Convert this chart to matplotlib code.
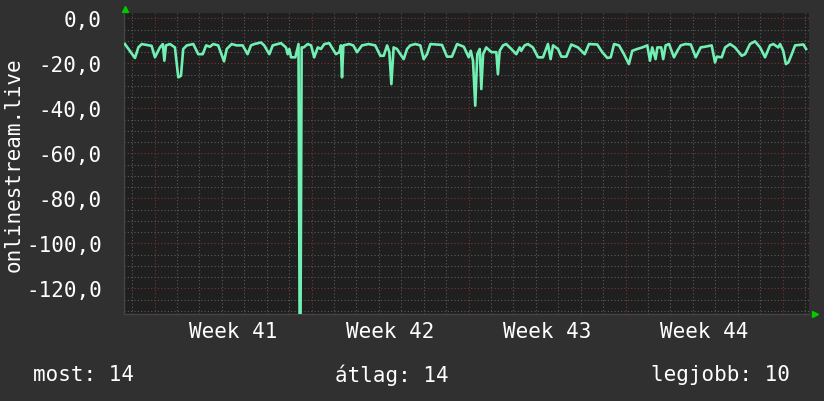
import matplotlib
matplotlib.use("Agg")
from matplotlib import pyplot as plt
import numpy as np

# time in days since the left edge of the graph, and the measured value
days = [0.04, 0.49, 0.64, 0.79, 1.23, 1.38, 1.60, 1.73, 1.80, 1.87,
        2.05, 2.27, 2.42, 2.54, 2.64, 2.80, 3.09, 3.31, 3.51, 3.66,
        3.83, 3.98, 4.20, 4.46, 4.58, 4.80, 5.02, 5.29, 5.51, 5.66,
        5.81, 6.11, 6.25, 6.48, 6.63, 7.00, 7.22, 7.30, 7.37, 7.45,
        7.64, 7.78, 7.83, 7.85, 7.87, 7.92, 8.01, 8.19, 8.34, 8.48,
        8.64, 8.78, 8.93, 9.15, 9.45, 9.60, 9.67, 9.72, 9.78, 10.04,
        10.22, 10.39, 10.61, 10.91, 11.20, 11.43, 11.58, 11.73, 11.83, 11.92,
        12.02, 12.17, 12.32, 12.47, 12.62, 12.76, 12.99, 13.21, 13.36, 13.51,
        13.66, 14.18, 14.40, 14.62, 14.85, 15.15, 15.37, 15.46, 15.56, 15.66,
        15.75, 15.86, 15.93, 16.01, 16.15, 16.38, 16.60, 16.67, 16.75, 16.90,
        17.04, 17.27, 17.49, 17.64, 17.71, 17.86, 18.01, 18.23, 18.46, 18.68,
        18.90, 19.02, 19.13, 19.35, 19.50, 19.72, 19.94, 20.24, 20.54, 20.73,
        21.10, 21.32, 21.55, 21.70, 21.85, 22.07, 22.29, 22.51, 22.66, 22.88,
        23.11, 23.33, 23.45, 23.55, 23.70, 23.78, 23.95, 24.04, 24.15, 24.30,
        24.52, 24.67, 24.82, 25.04, 25.27, 25.49, 25.71, 25.90, 26.20, 26.35,
        26.43, 26.65, 26.80, 27.02, 27.24, 27.54, 27.69, 27.91, 28.13, 28.36,
        28.58, 28.80, 28.95, 29.17, 29.25, 29.39, 29.51, 29.62, 29.77, 29.92,
        30.29, 30.41]
values = [-11.4, -17.6, -12.9, -11.4, -12.2, -17.3, -12.9, -11.4, -18.8, -12.0,
          -11.4, -12.9, -26.2, -25.5, -13.6, -12.0, -11.4, -15.9, -15.9, -12.0,
          -12.6, -11.4, -12.0, -19.1, -13.6, -11.4, -12.0, -12.0, -15.9, -12.0,
          -11.4, -10.7, -12.0, -15.9, -12.0, -11.0, -12.9, -15.9, -13.6, -17.3,
          -17.3, -11.4, -135.0, -135.0, -135.0, -12.9, -12.9, -11.4, -12.0, -17.3,
          -12.9, -13.6, -11.4, -11.0, -15.9, -15.0, -12.0, -26.2, -12.0, -11.4,
          -12.0, -15.0, -12.0, -11.4, -12.0, -16.6, -16.6, -12.0, -15.0, -29.2,
          -12.9, -13.6, -15.9, -18.1, -13.6, -12.0, -11.4, -12.0, -18.1, -15.9,
          -11.4, -11.8, -17.0, -17.0, -11.4, -12.6, -17.3, -14.4, -18.8, -38.8,
          -15.9, -13.6, -31.4, -15.9, -12.9, -15.0, -15.0, -24.8, -14.4, -12.0,
          -11.4, -13.6, -15.9, -12.9, -14.4, -12.0, -11.4, -12.9, -17.3, -17.3,
          -11.4, -18.1, -12.0, -13.6, -17.0, -17.0, -11.6, -12.9, -15.9, -11.4,
          -11.6, -15.0, -17.6, -17.3, -11.4, -12.0, -15.9, -20.3, -14.4, -13.6,
          -12.9, -12.0, -18.8, -12.9, -18.1, -12.9, -12.9, -18.1, -12.0, -11.4,
          -17.3, -14.4, -12.0, -11.4, -11.6, -17.3, -12.9, -12.6, -12.0, -19.6,
          -17.0, -17.3, -12.9, -11.4, -12.9, -16.6, -15.9, -11.4, -10.2, -12.9,
          -17.3, -12.0, -11.4, -12.9, -11.4, -14.4, -20.3, -19.6, -15.9, -12.0,
          -11.6, -13.6]

week_starts = [1.36, 8.36, 15.36, 22.36, 29.36]
week_labels = ["Week 41", "Week 42", "Week 43", "Week 44"]
y_ticks = [0, -20, -40, -60, -80, -100, -120]
summary = ["most: 14", "átlag: 14", "legjobb: 10"]
y_label = "onlinestream.live"

X_MAX = 30.54
Y_MIN, Y_MAX = -131.4, 2.4
BG = "#303030"
PLOT_BG = "#1f1f1f"
LINE = "#72f0b4"
FONT = "DejaVu Sans Mono"
FS = 15

fig = plt.figure(figsize=(8.24, 4.02), dpi=100, facecolor=BG)
ax = fig.add_axes([124 / 824, 87 / 402, 685 / 824, 301 / 402])
ax.set_facecolor(PLOT_BG)

# dotted minor grid (daily / every 5) and red major grid (weekly / every 20)
dot = (0, (1, 2))
for d in np.arange(week_starts[0] - 1, X_MAX, 1.0):
    if min(abs(d - w) for w in week_starts) > 0.01:
        ax.axvline(d, color="#5a5a5a", lw=0.8, ls=dot, zorder=1)
for v in np.arange(0, Y_MIN, -5):
    if v % 20 != 0:
        ax.axhline(v, color="#5a5a5a", lw=0.8, ls=dot, zorder=1)
for w in week_starts:
    ax.axvline(w, color="#7a3434", lw=0.8, ls=dot, zorder=1)
for v in y_ticks:
    ax.axhline(v, color="#7a3434", lw=0.8, ls=dot, zorder=1)

ax.plot(days, values, color=LINE, lw=1.9, zorder=3)

ax.set_xlim(0, X_MAX)
ax.set_ylim(Y_MIN, Y_MAX)

ax.set_yticks(y_ticks)
ax.set_yticklabels([f"{v:.1f}".replace(".", ",") for v in y_ticks],
                   family=FONT, fontsize=FS, color="white")
ax.tick_params(axis="y", length=0, pad=16)

mids = [(week_starts[i] + week_starts[i + 1]) / 2 for i in range(len(week_labels))]
ax.set_xticks(mids)
ax.set_xticklabels(week_labels, family=FONT, fontsize=FS, color="white")
ax.tick_params(axis="x", length=0, pad=5)

for side in ["top", "right"]:
    ax.spines[side].set_visible(False)
for side in ["bottom", "left"]:
    ax.spines[side].set_color("#444444")
    ax.spines[side].set_linewidth(1.0)

# green arrow heads at the axis ends
ax.plot([0.001], [1.013], marker="^", color="#00cc00", ms=4, transform=ax.transAxes,
        clip_on=False)
ax.plot([1.009], [0.0], marker=">", color="#00cc00", ms=4, transform=ax.transAxes,
        clip_on=False)

fig.text(14 / 824, 0.5 + (402 / 2 - 165) / 402, y_label, rotation=90, ha="center",
         va="center", family=FONT, fontsize=FS, color="white")

fig.text(33 / 824, 1 - 375 / 402, summary[0], ha="left", va="center",
         family=FONT, fontsize=FS, color="white")
fig.text(392 / 824, 1 - 375 / 402, summary[1], ha="center", va="center",
         family=FONT, fontsize=FS, color="white")
fig.text(790 / 824, 1 - 375 / 402, summary[2], ha="right", va="center",
         family=FONT, fontsize=FS, color="white")

fig.savefig("out.png", dpi=100, facecolor=BG)
